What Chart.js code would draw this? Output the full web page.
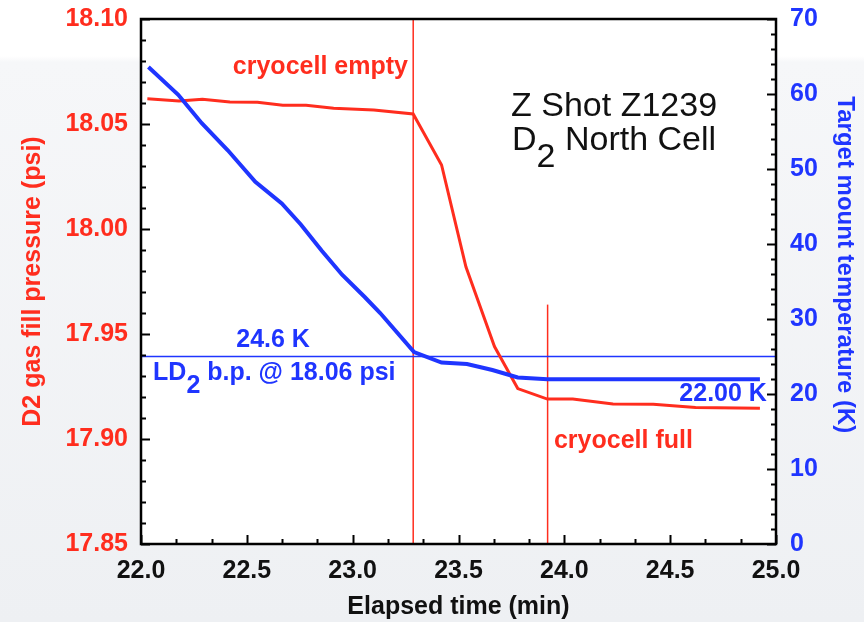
<!DOCTYPE html>
<html>
<head>
<meta charset="utf-8">
<script src="https://cdn.jsdelivr.net/npm/chart.js@4.4.1/dist/chart.umd.min.js"></script>
<style>
  html, body { margin: 0; padding: 0; background: #ffffff; }
  canvas { display: block; }
</style>
</head>
<body>
<canvas id="c" width="864" height="622"></canvas>
<script>
// ---- data ----
const timeP = [22.03, 22.18, 22.29, 22.42, 22.55, 22.67, 22.78, 22.91, 23.10, 23.286, 23.42, 23.535, 23.67, 23.78, 23.92, 24.04, 24.23, 24.42, 24.62, 24.924];
const pressure = [18.062, 18.061, 18.0618, 18.0605, 18.0603, 18.0589, 18.0589, 18.0575, 18.0567, 18.0548, 18.0305, 17.982, 17.944, 17.924, 17.919, 17.919, 17.9167, 17.9165, 17.915, 17.9146];

const timeT = [22.035, 22.176, 22.287, 22.41, 22.54, 22.665, 22.755, 22.854, 22.95, 23.058, 23.13, 23.29, 23.42, 23.54, 23.66, 23.78, 23.92, 24.924];
const temperature = [63.6, 59.9, 56.1, 52.5, 48.3, 45.4, 42.6, 39.1, 35.9, 32.9, 30.8, 25.6, 24.2, 24.0, 23.2, 22.2, 21.96, 21.96];

const emptyTime = 23.286;          // "cryocell empty" marker
const fullTime = 23.921;           // "cryocell full" marker
const fullMarkerTop = 17.964;      // psi where the full marker starts
const bpTemperature = 25.0;        // LD2 boiling point reference line (K)

const xTicks = [22.0, 22.5, 23.0, 23.5, 24.0, 24.5, 25.0];
const pTicks = [17.85, 17.90, 17.95, 18.00, 18.05, 18.10];
const tTicks = [0, 10, 20, 30, 40, 50, 60, 70];

// ---- styles ----
const RED = '#ff2d1e';
const BLUE = '#1f35ff';
const FONT = '"Liberation Sans", Arial, Helvetica, sans-serif';

const pts = (xs, ys) => xs.map((x, i) => ({ x: x, y: ys[i] }));

const notes = [
  { segs: [['cryocell empty', 0]], x: 23.261, y: 18.0738, align: 'right', color: RED, font: 'bold 25px ' + FONT },
  { segs: [['Z Shot Z1239', 0]], x: 24.235, y: 18.054, align: 'center', color: '#111', font: '34px ' + FONT },
  { segs: [['D', 0], ['2', 17], [' North Cell', 0]], x: 24.235, y: 18.0376, align: 'center', color: '#111', font: '34px ' + FONT },
  { segs: [['24.6 K', 0]], x: 22.624, y: 17.9438, align: 'center', color: BLUE, font: 'bold 25px ' + FONT },
  { segs: [['LD', 0], ['2', 13], [' b.p. @ 18.06 psi', 0]], x: 22.057, y: 17.928, align: 'left', color: BLUE, font: 'bold 25px ' + FONT },
  { segs: [['22.00 K', 0]], x: 24.957, y: 17.918, align: 'right', color: BLUE, font: 'bold 25px ' + FONT },
  { segs: [['cryocell full', 0]], x: 23.951, y: 17.8957, align: 'left', color: RED, font: 'bold 25px ' + FONT }
];

const decor = {
  id: 'decor',
  beforeDraw(chart) {
    const ctx = chart.ctx, a = chart.chartArea;
    ctx.save();
    const g = ctx.createLinearGradient(0, 0, 0, chart.height);
    g.addColorStop(0, '#ffffff');
    g.addColorStop(0.09, '#ffffff');
    g.addColorStop(0.1, '#f6f7f9');
    g.addColorStop(1, '#eef0f3');
    ctx.fillStyle = g;
    ctx.fillRect(0, 0, chart.width, chart.height);
    ctx.fillStyle = '#ffffff';
    ctx.fillRect(a.left, a.top, a.right - a.left, a.bottom - a.top);
    ctx.restore();
  },
  afterDraw(chart) {
    const ctx = chart.ctx, a = chart.chartArea;
    const sx = chart.scales.x, sp = chart.scales.yP, st = chart.scales.yT;
    ctx.save();
    ctx.strokeStyle = '#000';
    ctx.lineWidth = 2;
    ctx.beginPath();
    // left axis ticks (inward)
    for (let i = 0; i <= 25; i++) {
      const v = 17.85 + i * 0.01;
      const y = Math.round(sp.getPixelForValue(v)) + 0.5;
      const len = (i % 5 === 0) ? 9 : 5;
      ctx.moveTo(a.left, y); ctx.lineTo(a.left + len, y);
    }
    // right axis ticks (inward)
    for (let v = 0; v <= 70; v += 2) {
      const y = Math.round(st.getPixelForValue(v)) + 0.5;
      const len = (v % 10 === 0) ? 9 : 5;
      ctx.moveTo(a.right, y); ctx.lineTo(a.right - len, y);
    }
    // bottom ticks (inward), every 10 s
    for (let i = 0; i <= 18; i++) {
      const v = 22 + i / 6;
      const x = Math.round(sx.getPixelForValue(v)) + 0.5;
      const len = (i % 3 === 0) ? 9 : 5;
      ctx.moveTo(x, a.bottom); ctx.lineTo(x, a.bottom - len);
    }
    ctx.stroke();
    // frame
    ctx.lineWidth = 2.5;
    ctx.strokeRect(a.left, a.top, a.right - a.left, a.bottom - a.top);

    // annotations
    ctx.textBaseline = 'alphabetic';
    ctx.textAlign = 'left';
    for (const n of notes) {
      ctx.font = n.font;
      ctx.fillStyle = n.color;
      let w = 0;
      for (const s of n.segs) w += ctx.measureText(s[0]).width;
      let x = sx.getPixelForValue(n.x);
      const y = sp.getPixelForValue(n.y);
      if (n.align === 'center') x -= w / 2;
      else if (n.align === 'right') x -= w;
      for (const s of n.segs) {
        ctx.fillText(s[0], x, y + s[1]);
        x += ctx.measureText(s[0]).width;
      }
    }
    ctx.restore();
  }
};

const noPadV = s => { s.paddingTop = 0; s.paddingBottom = 0; };

new Chart(document.getElementById('c'), {
  type: 'line',
  data: {
    datasets: [
      { label: 'Target mount temperature', yAxisID: 'yT', data: pts(timeT, temperature),
        borderColor: BLUE, borderWidth: 4, pointRadius: 0, tension: 0, fill: false },
      { label: 'D2 gas fill pressure', yAxisID: 'yP', data: pts(timeP, pressure),
        borderColor: RED, borderWidth: 3, pointRadius: 0, tension: 0, fill: false },
      { label: 'LD2 b.p.', yAxisID: 'yT', data: pts([22, 25], [bpTemperature, bpTemperature]),
        borderColor: BLUE, borderWidth: 1.5, pointRadius: 0, fill: false },
      { label: 'cryocell empty', yAxisID: 'yP', data: pts([emptyTime, emptyTime], [17.85, 18.10]),
        borderColor: RED, borderWidth: 1.5, pointRadius: 0, fill: false },
      { label: 'cryocell full', yAxisID: 'yP', data: pts([fullTime, fullTime], [17.85, fullMarkerTop]),
        borderColor: RED, borderWidth: 1.5, pointRadius: 0, fill: false }
    ]
  },
  options: {
    responsive: false,
    animation: false,
    devicePixelRatio: 1,
    layout: { padding: { top: 19, left: 0, right: 0, bottom: 0 } },
    plugins: { legend: { display: false }, tooltip: { enabled: false } },
    scales: {
      x: {
        type: 'linear', position: 'bottom', min: 22, max: 25,
        afterBuildTicks: s => { s.ticks = xTicks.map(v => ({ value: v })); },
        afterFit: s => { s.height = 78; s.paddingLeft = 0; s.paddingRight = 0; },
        grid: { display: false, drawTicks: false },
        border: { display: false },
        ticks: { color: '#111', font: { family: FONT, size: 25, weight: 'bold' }, padding: 12,
                 maxRotation: 0, callback: v => Number(v).toFixed(1) },
        title: { display: true, text: 'Elapsed time (min)', color: '#111',
                 font: { family: FONT, size: 25, weight: 'bold' }, padding: { top: 0, bottom: 0 } }
      },
      yP: {
        type: 'linear', position: 'left', min: 17.85, max: 18.10,
        afterBuildTicks: s => { s.ticks = pTicks.map(v => ({ value: v })); },
        afterFit: s => { s.width = 141; noPadV(s); },
        grid: { display: false, drawTicks: false },
        border: { display: false },
        ticks: { color: RED, font: { family: FONT, size: 25, weight: 'bold' }, padding: 13,
                 callback: v => Number(v).toFixed(2) },
        title: { display: true, text: 'D2 gas fill pressure (psi)', color: RED,
                 font: { family: FONT, size: 25, weight: 'bold' }, padding: { top: 18, bottom: 0 } }
      },
      yT: {
        type: 'linear', position: 'right', min: 0, max: 70,
        afterBuildTicks: s => { s.ticks = tTicks.map(v => ({ value: v })); },
        afterFit: s => { s.width = 88; noPadV(s); },
        grid: { display: false, drawTicks: false },
        border: { display: false },
        ticks: { color: BLUE, font: { family: FONT, size: 25, weight: 'bold' }, padding: 14,
                 callback: v => String(v) },
        title: { display: true, text: 'Target mount temperature (K)     ', color: BLUE,
                 font: { family: FONT, size: 24, weight: 'bold' }, padding: { top: 5, bottom: 0 } }
      }
    }
  },
  plugins: [decor]
});
</script>
</body>
</html>
